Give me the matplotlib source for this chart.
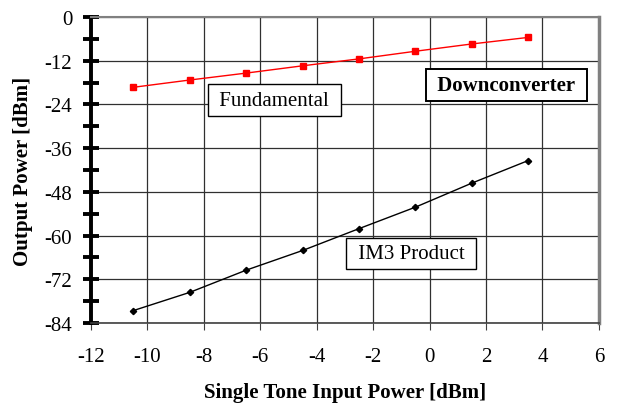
import numpy as np
import matplotlib
matplotlib.use("Agg")
import matplotlib.pyplot as plt
from matplotlib.ticker import MultipleLocator

plt.rcParams['font.family'] = ['Liberation Serif', 'DejaVu Serif']
plt.rcParams['axes.unicode_minus'] = False

# input power steps [dBm]
input_power = [-10.5, -8.5, -6.5, -4.5, -2.5, -0.5, 1.5, 3.5]
# measured outputs [dBm]
fundamental = [-19.3, -17.3, -15.4, -13.4, -11.5, -9.4, -7.4, -5.6]
im3_product = [-80.6, -75.6, -69.5, -64.1, -58.1, -52.2, -45.6, -39.4]

fig = plt.figure(figsize=(6.18, 4.10), dpi=100)
ax = fig.add_axes([0.1472, 0.2098, 0.8218, 0.7463])

ax.plot(input_power, fundamental, color='red', lw=1.0, marker='s', ms=4.5,
        markeredgecolor='red', zorder=3)
ax.plot(input_power, im3_product, color='black', lw=1.0, marker='D', ms=3.2,
        zorder=3)

ax.set_xlim(-12, 6)
ax.set_ylim(-84, 0)
ax.xaxis.set_major_locator(MultipleLocator(2))
ax.yaxis.set_major_locator(MultipleLocator(12))
ax.yaxis.set_minor_locator(MultipleLocator(6))

ax.grid(True, which='major', color='#303030', lw=0.9)
ax.set_axisbelow(True)

ax.spines['left'].set_linewidth(2.8)
ax.spines['left'].set_color('black')
ax.spines['bottom'].set_linewidth(1.2)
ax.spines['bottom'].set_color('#404040')
ax.spines['top'].set_linewidth(1.5)
ax.spines['top'].set_color('#808080')
ax.spines['right'].set_linewidth(2.5)
ax.spines['right'].set_color('#808080')

fs = 15
ax.tick_params(axis='y', which='major', direction='inout', length=11, width=2.8,
               labelsize=fs, pad=8)
ax.tick_params(axis='y', which='minor', direction='inout', length=11, width=2.8)
ax.tick_params(axis='x', which='major', direction='out', length=5, width=0.8,
               color='#404040', labelsize=fs, pad=12)

ax.set_xlabel('Single Tone Input Power [dBm]', fontsize=fs, fontweight='bold',
              labelpad=12)
ax.set_ylabel('Output Power [dBm]', fontsize=fs, fontweight='bold', labelpad=8)

box = dict(boxstyle='square,pad=0.3', facecolor='white', edgecolor='black', lw=1.0)
ax.text(-5.5, -22.8, ' Fundamental ', fontsize=fs, ha='center', va='center',
        bbox=box, zorder=4)
ax.text(-0.65, -64.9, ' IM3 Product ', fontsize=fs, ha='center', va='center',
        bbox=box, zorder=4)
box_b = dict(boxstyle='square,pad=0.3', facecolor='white', edgecolor='black', lw=1.4)
ax.text(2.72, -18.7, ' Downconverter ', fontsize=fs, fontweight='bold',
        ha='center', va='center', bbox=box_b, zorder=4)

fig.savefig('out.png', dpi=100)
